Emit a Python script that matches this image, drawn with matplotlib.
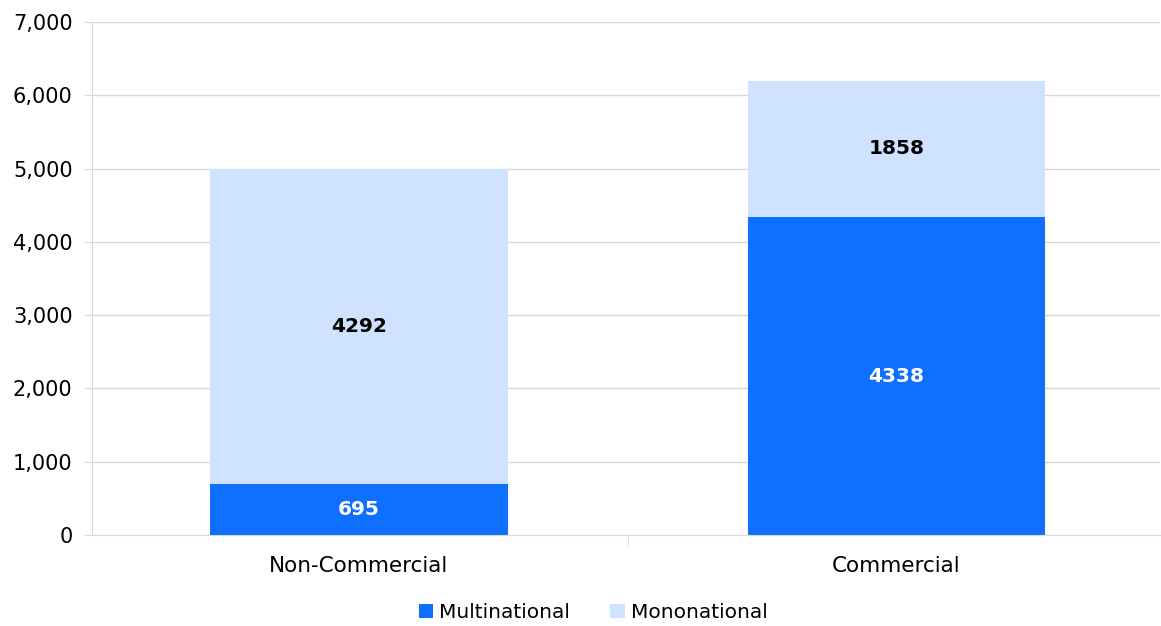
import matplotlib
matplotlib.use("Agg")
import matplotlib.pyplot as plt
from matplotlib.ticker import FuncFormatter

categories = ["Non-Commercial", "Commercial"]
multinational = [695, 4338]
mononational = [4292, 1858]

DARK = "#0F6FFF"
LIGHT = "#CFE2FF"

fig = plt.figure(figsize=(11.61, 6.26), dpi=100)
ax = fig.add_axes([0.0792, 0.1454, 0.9200, 0.8195])

x = list(range(len(categories)))
width = 0.554
ax.bar(x, multinational, width, color=DARK, label="Multinational")
ax.bar(x, mononational, width, bottom=multinational, color=LIGHT, label="Mononational")

for i in x:
    ax.text(i, multinational[i] / 2, str(multinational[i]), ha="center", va="center",
            color="white", fontsize=14.5, fontweight="bold")
    ax.text(i, multinational[i] + mononational[i] / 2, str(mononational[i]), ha="center",
            va="center", color="black", fontsize=14.5, fontweight="bold")

ax.set_xlim(-0.4967, 1.4903)
ax.set_ylim(0, 7000)
ax.set_yticks(range(0, 7001, 1000))
ax.yaxis.set_major_formatter(FuncFormatter(lambda v, p: f"{int(v):,}"))
ax.yaxis.grid(True, color="#D9D9D9", linewidth=1)
ax.set_axisbelow(True)

ax.set_xticks(x)
ax.set_xticklabels(categories)
ax.tick_params(axis="x", length=0, labelsize=15.5, pad=15)
ax.tick_params(axis="y", length=6, color="#D9D9D9", labelsize=15, pad=8)
# separator between categories
ax.set_xticks([0.5], minor=True)
ax.tick_params(axis="x", which="minor", length=8, color="#D9D9D9")

for s in ["top", "right"]:
    ax.spines[s].set_visible(False)
for s in ["left", "bottom"]:
    ax.spines[s].set_color("#D9D9D9")

fig.legend(loc="lower center", bbox_to_anchor=(0.511, -0.022), ncol=2, frameon=False,
           fontsize=14.5, handlelength=0.7, handleheight=0.7, handletextpad=0.3,
           columnspacing=2.0)

fig.savefig("out.png", dpi=100)
